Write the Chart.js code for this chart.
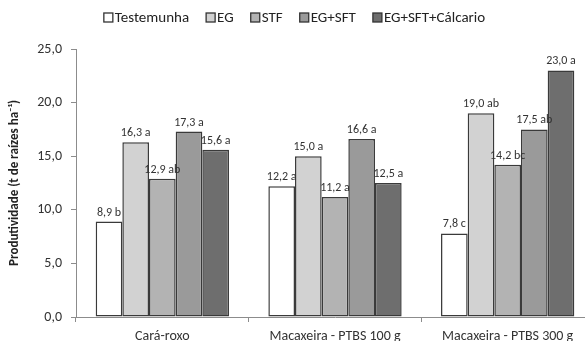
<!DOCTYPE html>
<html>
<head>
<meta charset="utf-8">
<script src="https://cdn.jsdelivr.net/npm/chart.js@4/dist/chart.umd.min.js"></script>
<style>
  html, body { margin: 0; padding: 0; background: #ffffff; overflow: hidden; }
  #wrap { position: relative; width: 610px; height: 360px; }
</style>
</head>
<body>
<div id="wrap"><canvas id="c" width="610" height="360"></canvas></div>
<script>
// Produtividade por tratamento
const categories = ['Cará-roxo', 'Macaxeira - PTBS 100 g', 'Macaxeira - PTBS 300 g'];
const seriesNames = ['Testemunha', 'EG', 'STF', 'EG+SFT', 'EG+SFT+Cálcario'];

const testemunha = [8.9, 12.2, 7.8];
const eg         = [16.3, 15.0, 19.0];
const stf        = [12.9, 11.2, 14.2];
const egSft      = [17.3, 16.6, 17.5];
const egSftCalc  = [15.6, 12.5, 23.0];

// letras do teste de médias
const letrasTestemunha = ['b', 'a', 'c'];
const letrasEg         = ['a', 'a', 'ab'];
const letrasStf        = ['ab', 'a', 'bc'];
const letrasEgSft      = ['a', 'a', 'ab'];
const letrasEgSftCalc  = ['a', 'a', 'a'];

const yTicks = [0, 5, 10, 15, 20, 25];

const seriesValues = [testemunha, eg, stf, egSft, egSftCalc];
const seriesLetters = [letrasTestemunha, letrasEg, letrasStf, letrasEgSft, letrasEgSftCalc];
const fills = ['#ffffff', '#d2d2d2', '#b3b3b3', '#9a9a9a', '#6e6e6e'];

const FONT = 'Carlito, Lato, "Open Sans", sans-serif';
const fmt = v => v.toFixed(1).replace('.', ',');

const valueLabels = {
  id: 'valueLabels',
  afterDatasetsDraw(chart) {
    const ctx = chart.ctx;
    ctx.save();
    ctx.font = '12px ' + FONT;
    ctx.fillStyle = '#333333';
    ctx.textAlign = 'center';
    ctx.textBaseline = 'bottom';
    chart.data.datasets.forEach((ds, i) => {
      const meta = chart.getDatasetMeta(i);
      meta.data.forEach((bar, j) => {
        const txt = fmt(ds.data[j]) + ' ' + ds.letters[j];
        ctx.fillText(txt, bar.x, bar.y - 3);
      });
    });
    ctx.restore();
  }
};

const topLegend = {
  id: 'topLegend',
  afterDraw(chart) {
    const ctx = chart.ctx;
    ctx.save();
    ctx.font = '15px ' + FONT;
    ctx.textBaseline = 'middle';
    const box = 9, gapBox = 2, gapItem = 17;
    const widths = chart.data.datasets.map(ds => ctx.measureText(ds.label).width);
    const total = widths.reduce((a, w) => a + box + gapBox + w, 0) + gapItem * (widths.length - 1);
    let x = 294.5 - total / 2;
    const y = 17.5;
    chart.data.datasets.forEach((ds, i) => {
      ctx.fillStyle = ds.backgroundColor;
      ctx.fillRect(x, y - box / 2, box, box);
      ctx.strokeStyle = '#333333';
      ctx.lineWidth = 1.3;
      ctx.strokeRect(x, y - box / 2, box, box);
      ctx.fillStyle = '#222222';
      ctx.textAlign = 'left';
      ctx.fillText(ds.label, x + box + gapBox, y + 1);
      x += box + gapBox + widths[i] + gapItem;
    });
    ctx.restore();
  }
};

new Chart(document.getElementById('c'), {
  type: 'bar',
  data: {
    labels: categories,
    datasets: seriesNames.map((name, i) => ({
      label: name,
      data: seriesValues[i],
      letters: seriesLetters[i],
      backgroundColor: fills[i],
      borderColor: '#3a3a3a',
      borderWidth: 1.5,
      borderSkipped: false,
      categoryPercentage: 0.772,
      barPercentage: 1.0
    }))
  },
  options: {
    responsive: false,
    animation: false,
    devicePixelRatio: 1,
    layout: { padding: { top: 49, right: 16, bottom: 0, left: 0 } },
    plugins: {
      legend: { display: false },
      tooltip: { enabled: false }
    },
    scales: {
      x: {
        offset: true,
        grid: {
          display: true,
          offset: true,
          drawOnChartArea: false,
          drawTicks: true,
          tickLength: 5,
          color: '#8c8c8c'
        },
        border: { color: '#8c8c8c', width: 1 },
        ticks: {
          font: { family: FONT, size: 14 },
          color: '#333333',
          padding: 6,
          maxRotation: 0
        },
        afterFit(scale) { scale.height = 43; }
      },
      y: {
        min: 0,
        max: 25,
        afterBuildTicks(scale) { scale.ticks = yTicks.map(v => ({ value: v })); },
        grid: {
          display: true,
          drawOnChartArea: false,
          drawTicks: true,
          tickLength: 5,
          color: '#8c8c8c'
        },
        border: { color: '#8c8c8c', width: 1 },
        ticks: {
          font: { family: FONT, size: 14 },
          color: '#333333',
          padding: 9,
          callback: v => fmt(v)
        },
        title: {
          display: true,
          text: 'Produtividade (t de raízes ha⁻¹)',
          font: { family: FONT, size: 13, weight: 'bold' },
          color: '#222222',
          padding: { top: 7, bottom: 0 }
        },
        afterFit(scale) { scale.width = 76; }
      }
    }
  },
  plugins: [valueLabels, topLegend]
});
</script>
</body>
</html>
